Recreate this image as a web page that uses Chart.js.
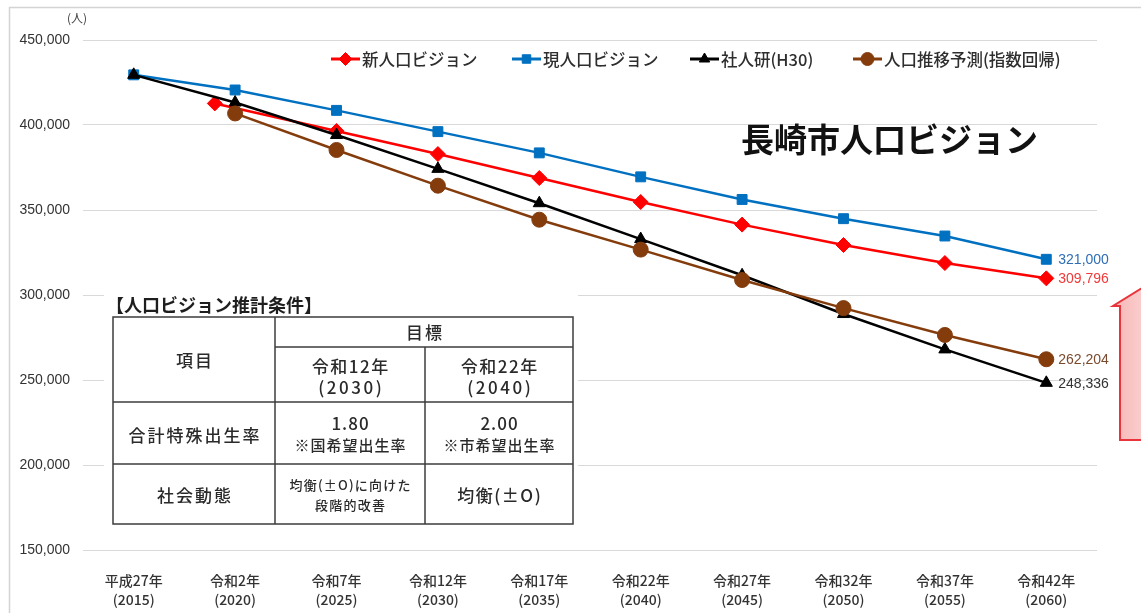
<!DOCTYPE html>
<html><head><meta charset="utf-8">
<script src="https://cdn.jsdelivr.net/npm/chart.js@4.4.1/dist/chart.umd.min.js"></script>
<style>html,body{margin:0;padding:0;background:#fff;}#wrap{position:relative;width:1141px;height:613px;}</style>
</head><body><div id="wrap"><canvas id="c" width="1141" height="613"></canvas></div>
<script>
// ---- data ----
const years = [2015, 2020, 2025, 2030, 2035, 2040, 2045, 2050, 2055, 2060];
const eraLabels = ['平成27年', '令和2年', '令和7年', '令和12年', '令和17年', '令和22年', '令和27年', '令和32年', '令和37年', '令和42年'];
const yearLabels = ['(2015)', '(2020)', '(2025)', '(2030)', '(2035)', '(2040)', '(2045)', '(2050)', '(2055)', '(2060)'];
const newVisionYears = [2019, 2025, 2030, 2035, 2040, 2045, 2050, 2055, 2060];
const newVision = [412700, 396500, 382900, 368800, 354700, 341400, 329400, 318800, 309796];
const currentVision = [429508, 420600, 408600, 396100, 383600, 369500, 356200, 344900, 334700, 321000];
const ipss = [429508, 413200, 394100, 374200, 354000, 332900, 311600, 288800, 268000, 248336];
const trendYears = [2020, 2025, 2030, 2035, 2040, 2045, 2050, 2055, 2060];
const trend = [406800, 385300, 364300, 344300, 326700, 308800, 292300, 276500, 262204];
const seriesNames = ['新人口ビジョン', '現人口ビジョン', '社人研(H30)', '人口推移予測(指数回帰)'];
const yTicks = [150000, 200000, 250000, 300000, 350000, 400000, 450000];

const JP = '"Noto Sans CJK JP", "Noto Sans", sans-serif';
const colors = ['#FF0000', '#0070C0', '#000000', '#843C0C'];
const labelColors = ['#F03A3A', '#2F6DB5', '#333333', '#7A4A2E'];
const styles = ['rectRot', 'rect', 'triangle', 'circle'];
const radii = [7.5, 7, 7, 7.5];

function pts(xs, ys) { return ys.map((v, i) => ({ x: xs[i], y: v })); }

const datasets = [
  { data: pts(newVisionYears, newVision) },
  { data: pts(years, currentVision) },
  { data: pts(years, ipss) },
  { data: pts(trendYears, trend) }
].map((d, i) => Object.assign(d, {
  label: seriesNames[i],
  borderColor: colors[i], backgroundColor: colors[i],
  pointBackgroundColor: colors[i], pointBorderColor: colors[i],
  pointStyle: styles[i], pointRadius: radii[i], pointBorderWidth: 1,
  borderWidth: 2.5, tension: 0, order: 4 - i
}));

const fmt = v => v.toLocaleString('en-US');

const decor = {
  id: 'decor',
  beforeDraw(chart) {
    const ctx = chart.ctx;
    ctx.save();
    ctx.strokeStyle = '#D4D4D4'; ctx.lineWidth = 1.5;
    ctx.strokeRect(9.5, 7.5, 1300, 800);
    ctx.fillStyle = '#404040';
    ctx.font = '12px ' + JP; ctx.textAlign = 'center'; ctx.textBaseline = 'middle';
    ctx.fillText('(人)', 77, 18);
    ctx.restore();
  },
  afterDatasetsDraw(chart) {
    const ctx = chart.ctx;
    ctx.save();
    ctx.font = '14px "Liberation Sans", Arial, sans-serif';
    ctx.textAlign = 'left'; ctx.textBaseline = 'middle';
    chart.data.datasets.forEach((ds, i) => {
      const meta = chart.getDatasetMeta(i);
      const el = meta.data[meta.data.length - 1];
      const v = ds.data[ds.data.length - 1].y;
      ctx.fillStyle = labelColors[i];
      ctx.fillText(fmt(v), el.x + 12, el.y + 1);
    });
    ctx.restore();
  },
  afterDraw(chart) {
    const ctx = chart.ctx;
    ctx.save();
    // legend
    const lx = [331, 512, 690, 853];
    const ly = 59;
    ctx.font = '500 16.5px ' + JP; ctx.textBaseline = 'middle'; ctx.textAlign = 'left';
    seriesNames.forEach((n, i) => {
      ctx.strokeStyle = colors[i]; ctx.lineWidth = 3;
      ctx.beginPath(); ctx.moveTo(lx[i], ly); ctx.lineTo(lx[i] + 29, ly); ctx.stroke();
      ctx.fillStyle = colors[i]; ctx.strokeStyle = colors[i]; ctx.lineWidth = 1;
      Chart.helpers.drawPoint(ctx, { pointStyle: styles[i], radius: radii[i] - 1, rotation: 0, borderWidth: 1 }, lx[i] + 14.5, ly);
      ctx.fillStyle = '#2E2E2E';
      ctx.fillText(n, lx[i] + 31, ly + 1);
    });
    // title
    ctx.fillStyle = '#111';
    ctx.font = 'bold 33px ' + JP;
    ctx.fillText('長崎市人口ビジョン', 741, 139);
    // arrow
    ctx.beginPath();
    ctx.moveTo(1150, 283);
    ctx.lineTo(1113, 306);
    ctx.lineTo(1120, 306);
    ctx.lineTo(1120, 440);
    ctx.lineTo(1180, 440);
    ctx.lineTo(1180, 306);
    ctx.closePath();
    const g = ctx.createLinearGradient(1113, 0, 1150, 0);
    g.addColorStop(0, '#F7B6B6'); g.addColorStop(1, '#FBD3D3');
    ctx.fillStyle = g; ctx.fill();
    ctx.strokeStyle = '#E8343A'; ctx.lineWidth = 2; ctx.stroke();
    // table
    drawTable(ctx);
    ctx.restore();
  }
};

function drawTable(ctx) {
  ctx.fillStyle = '#fff';
  ctx.fillRect(104, 287, 474, 240);
  ctx.fillStyle = '#1E1E1E';
  ctx.textBaseline = 'middle'; ctx.textAlign = 'left';
  ctx.font = 'bold 18px ' + JP;
  ctx.fillText('【人口ビジョン推計条件】', 106, 305);
  ctx.strokeStyle = '#3C3C3C'; ctx.lineWidth = 1.5;
  ctx.strokeRect(113, 317, 460, 207);
  const L = (x1, y1, x2, y2) => { ctx.beginPath(); ctx.moveTo(x1, y1); ctx.lineTo(x2, y2); ctx.stroke(); };
  L(275, 317, 275, 524); L(425, 347, 425, 524);
  L(275, 347, 573, 347); L(113, 402, 573, 402); L(113, 464, 573, 464);
  ctx.textAlign = 'center'; ctx.fillStyle = '#2A2A2A';
  const T = (s, x, y, size, sp) => {
    ctx.font = '500 ' + size + 'px ' + JP;
    ctx.letterSpacing = sp + 'px';
    ctx.fillText(s, x + sp / 2, y);
    ctx.letterSpacing = '0px';
  };
  T('目標', 424, 333, 17, 2);
  T('項目', 194, 361, 17, 2);
  T('令和12年', 350, 367, 17, 1.5); T('(2030)', 350, 388, 17, 2.5);
  T('令和22年', 499, 367, 17, 1.5); T('(2040)', 499, 388, 17, 2.5);
  T('合計特殊出生率', 194, 436, 17, 2);
  T('1.80', 350, 424, 17, 1); T('※国希望出生率', 350, 445, 15, 1);
  T('2.00', 499, 424, 17, 1); T('※市希望出生率', 499, 445, 15, 1);
  T('社会動態', 194, 496, 17, 2);
  T('均衡(±O)に向けた', 350, 485, 13, 1.2); T('段階的改善', 350, 505, 13, 1.2);
  T('均衡(±O)', 499, 496, 17, 1.5);
}

new Chart(document.getElementById('c'), {
  type: 'line',
  data: { datasets },
  options: {
    responsive: false, animation: false, devicePixelRatio: 1,
    layout: { padding: { left: 0, right: 44, top: 40, bottom: 0 } },
    plugins: { legend: { display: false }, tooltip: { enabled: false } },
    scales: {
      x: {
        type: 'linear', min: 2012.5, max: 2062.5,
        afterBuildTicks: s => { s.ticks = years.map(v => ({ value: v })); },
        afterFit: s => { s.height = 63; },
        grid: { display: false }, border: { display: false },
        ticks: {
          autoSkip: false, maxRotation: 0, padding: 13,
          color: '#333333', font: { family: JP, size: 14, weight: '500', lineHeight: 1.35 },
          callback: v => { const i = years.indexOf(v); return i < 0 ? '' : [eraLabels[i], yearLabels[i]]; }
        }
      },
      y: {
        min: 150000, max: 450000,
        afterBuildTicks: s => { s.ticks = yTicks.map(v => ({ value: v })); },
        afterFit: s => { s.width = 83; },
        grid: { color: '#D9D9D9', lineWidth: 1, drawTicks: false }, border: { display: false },
        ticks: {
          padding: 13, color: '#333333',
          font: { family: '"Liberation Sans", Arial, sans-serif', size: 14 },
          callback: v => fmt(v)
        }
      }
    }
  },
  plugins: [decor]
});
</script>
</body></html>
